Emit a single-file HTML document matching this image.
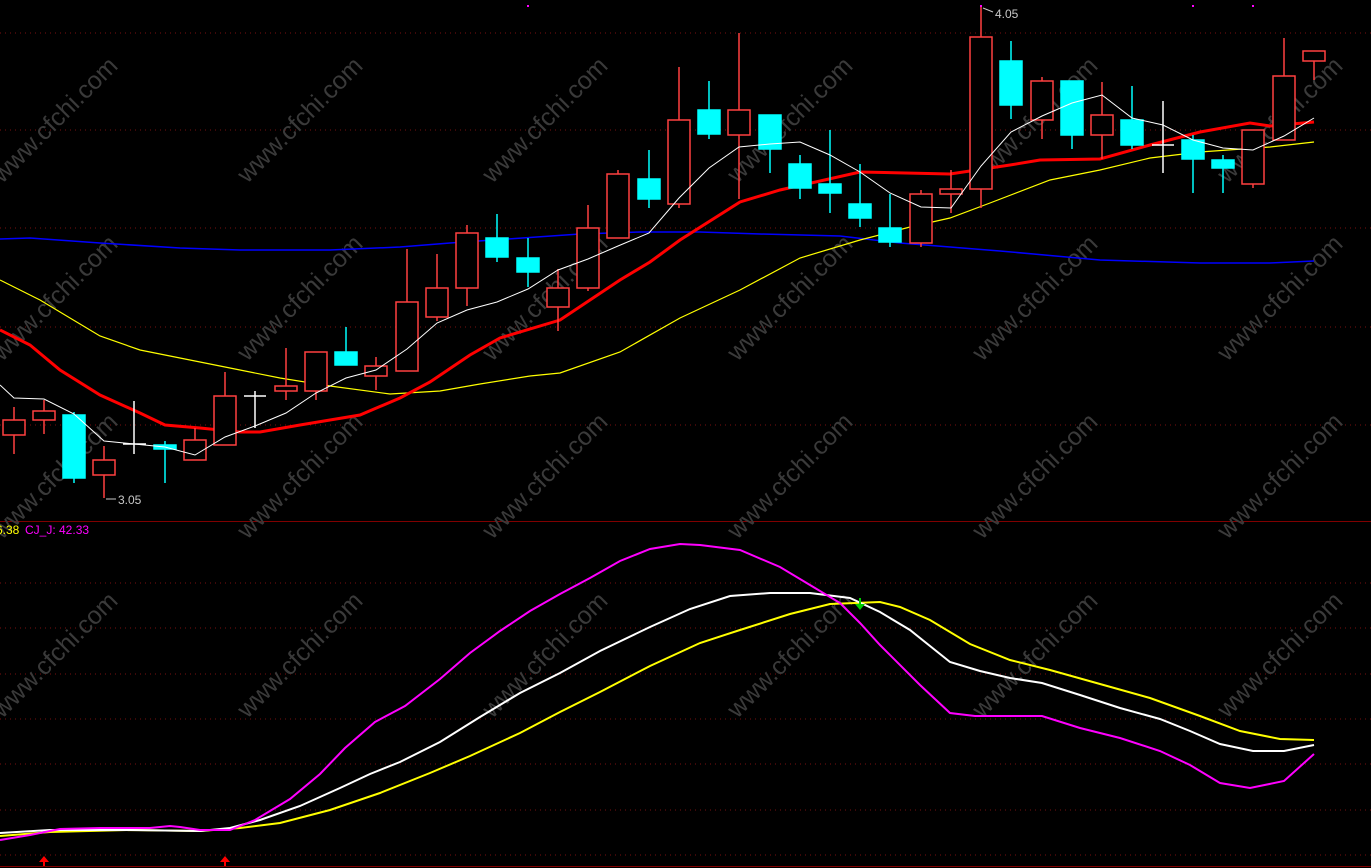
<!DOCTYPE html>
<html><head><meta charset="utf-8"><style>
html,body{margin:0;padding:0;background:#000;overflow:hidden}
svg{display:block}
</style></head><body>
<svg width="1371" height="868" viewBox="0 0 1371 868" xmlns="http://www.w3.org/2000/svg">
<rect width="1371" height="868" fill="#000"/>
<g stroke="#7a1010" stroke-width="1" stroke-dasharray="1,4">
<line x1="0" y1="33" x2="1371" y2="33"/><line x1="0" y1="130" x2="1371" y2="130"/><line x1="0" y1="228" x2="1371" y2="228"/><line x1="0" y1="327" x2="1371" y2="327"/><line x1="0" y1="425" x2="1371" y2="425"/>
<line x1="0" y1="583" x2="1371" y2="583"/><line x1="0" y1="628" x2="1371" y2="628"/><line x1="0" y1="674" x2="1371" y2="674"/><line x1="0" y1="719" x2="1371" y2="719"/><line x1="0" y1="764" x2="1371" y2="764"/><line x1="0" y1="810" x2="1371" y2="810"/><line x1="0" y1="855" x2="1371" y2="855"/>
</g>
<line x1="0" y1="521.5" x2="1371" y2="521.5" stroke="#800000" stroke-width="1"/>
<line x1="0" y1="866.5" x2="1371" y2="866.5" stroke="#800000" stroke-width="1"/>
<g font-family="Liberation Sans, sans-serif" font-size="25" fill="#3a3a3a">
<text transform="translate(55,120) rotate(-45)" text-anchor="middle" dy="8">www.cfchi.com</text>
<text transform="translate(300,120) rotate(-45)" text-anchor="middle" dy="8">www.cfchi.com</text>
<text transform="translate(545,120) rotate(-45)" text-anchor="middle" dy="8">www.cfchi.com</text>
<text transform="translate(790,120) rotate(-45)" text-anchor="middle" dy="8">www.cfchi.com</text>
<text transform="translate(1035,120) rotate(-45)" text-anchor="middle" dy="8">www.cfchi.com</text>
<text transform="translate(1280,120) rotate(-45)" text-anchor="middle" dy="8">www.cfchi.com</text>
<text transform="translate(55,298) rotate(-45)" text-anchor="middle" dy="8">www.cfchi.com</text>
<text transform="translate(300,298) rotate(-45)" text-anchor="middle" dy="8">www.cfchi.com</text>
<text transform="translate(545,298) rotate(-45)" text-anchor="middle" dy="8">www.cfchi.com</text>
<text transform="translate(790,298) rotate(-45)" text-anchor="middle" dy="8">www.cfchi.com</text>
<text transform="translate(1035,298) rotate(-45)" text-anchor="middle" dy="8">www.cfchi.com</text>
<text transform="translate(1280,298) rotate(-45)" text-anchor="middle" dy="8">www.cfchi.com</text>
<text transform="translate(55,476) rotate(-45)" text-anchor="middle" dy="8">www.cfchi.com</text>
<text transform="translate(300,476) rotate(-45)" text-anchor="middle" dy="8">www.cfchi.com</text>
<text transform="translate(545,476) rotate(-45)" text-anchor="middle" dy="8">www.cfchi.com</text>
<text transform="translate(790,476) rotate(-45)" text-anchor="middle" dy="8">www.cfchi.com</text>
<text transform="translate(1035,476) rotate(-45)" text-anchor="middle" dy="8">www.cfchi.com</text>
<text transform="translate(1280,476) rotate(-45)" text-anchor="middle" dy="8">www.cfchi.com</text>
<text transform="translate(55,655) rotate(-45)" text-anchor="middle" dy="8">www.cfchi.com</text>
<text transform="translate(300,655) rotate(-45)" text-anchor="middle" dy="8">www.cfchi.com</text>
<text transform="translate(545,655) rotate(-45)" text-anchor="middle" dy="8">www.cfchi.com</text>
<text transform="translate(790,655) rotate(-45)" text-anchor="middle" dy="8">www.cfchi.com</text>
<text transform="translate(1035,655) rotate(-45)" text-anchor="middle" dy="8">www.cfchi.com</text>
<text transform="translate(1280,655) rotate(-45)" text-anchor="middle" dy="8">www.cfchi.com</text>
</g>
<!-- MA lines -->
<polyline fill="none" stroke="#0000ff" stroke-width="1.5" points="0,239 30,238 100,243 180,248 240,250 330,250 400,247 450,243 580,234 640,232 700,232 760,234 840,236 900,243 1000,251 1100,260 1200,263 1270,263 1314,261"/>
<polyline fill="none" stroke="#ffff00" stroke-width="1.2" points="0,280 40,300 70,318 100,336 140,350 200,362 240,370 280,378 330,386 390,394 440,391 480,384 530,376 560,373 620,352 680,318 740,290 800,258 860,240 910,227 950,218 990,203 1050,180 1100,170 1150,158 1200,152 1270,147 1314,142"/>
<polyline fill="none" stroke="#ff0000" stroke-width="3" points="0,330 30,345 60,370 100,395 140,413 165,425 200,428 240,432 260,432 300,425 330,420 360,415 400,398 430,382 470,355 500,338 560,320 590,300 620,280 650,262 680,240 740,202 780,190 860,172 950,174 1010,165 1040,160 1100,159 1150,145 1200,132 1250,123 1270,126 1314,122"/>
<!-- candles -->
<g stroke-width="1.5">
<g stroke="#ff4040" fill="#000">
<line x1="14" y1="407" x2="14" y2="454"/><rect x="3" y="420" width="22" height="15"/>
<line x1="44" y1="400" x2="44" y2="434"/><rect x="33" y="411" width="22" height="9"/>
<line x1="104" y1="446" x2="104" y2="498"/><rect x="93" y="460" width="22" height="15"/>
<line x1="195" y1="428" x2="195" y2="460"/><rect x="184" y="440" width="22" height="20"/>
<line x1="225" y1="372" x2="225" y2="445"/><rect x="214" y="396" width="22" height="49"/>
<line x1="286" y1="348" x2="286" y2="400"/><rect x="275" y="386" width="22" height="5"/>
<line x1="316" y1="352" x2="316" y2="400"/><rect x="305" y="352" width="22" height="39"/>
<line x1="376" y1="357" x2="376" y2="390"/><rect x="365" y="366" width="22" height="10"/>
<line x1="407" y1="249" x2="407" y2="371"/><rect x="396" y="302" width="22" height="69"/>
<line x1="437" y1="254" x2="437" y2="321"/><rect x="426" y="288" width="22" height="29"/>
<line x1="467" y1="225" x2="467" y2="306"/><rect x="456" y="233" width="22" height="55"/>
<line x1="558" y1="269" x2="558" y2="331"/><rect x="547" y="288" width="22" height="19"/>
<line x1="588" y1="205" x2="588" y2="291"/><rect x="577" y="228" width="22" height="60"/>
<line x1="618" y1="170" x2="618" y2="238"/><rect x="607" y="174" width="22" height="64"/>
<line x1="679" y1="67" x2="679" y2="208"/><rect x="668" y="120" width="22" height="84"/>
<line x1="739" y1="33" x2="739" y2="199"/><rect x="728" y="110" width="22" height="25"/>
<line x1="921" y1="190" x2="921" y2="247"/><rect x="910" y="194" width="22" height="49"/>
<line x1="951" y1="170" x2="951" y2="213"/><rect x="940" y="189" width="22" height="5"/>
<line x1="981" y1="6" x2="981" y2="208"/><rect x="970" y="37" width="22" height="152"/>
<line x1="1042" y1="77" x2="1042" y2="139"/><rect x="1031" y="81" width="22" height="39"/>
<line x1="1102" y1="82" x2="1102" y2="159"/><rect x="1091" y="115" width="22" height="20"/>
<line x1="1253" y1="130" x2="1253" y2="188"/><rect x="1242" y="130" width="22" height="54"/>
<line x1="1284" y1="38" x2="1284" y2="140"/><rect x="1273" y="76" width="22" height="64"/>
<line x1="1314" y1="51" x2="1314" y2="80"/><rect x="1303" y="51" width="22" height="10"/>
</g>
<g stroke="#00ffff" fill="#00ffff">
<line x1="74" y1="412" x2="74" y2="483"/><rect x="63" y="415" width="22" height="63"/>
<line x1="165" y1="441" x2="165" y2="483"/><rect x="154" y="445" width="22" height="4"/>
<line x1="346" y1="327" x2="346" y2="365"/><rect x="335" y="352" width="22" height="13"/>
<line x1="497" y1="214" x2="497" y2="262"/><rect x="486" y="238" width="22" height="19"/>
<line x1="528" y1="238" x2="528" y2="287"/><rect x="517" y="258" width="22" height="14"/>
<line x1="649" y1="150" x2="649" y2="208"/><rect x="638" y="179" width="22" height="20"/>
<line x1="709" y1="81" x2="709" y2="139"/><rect x="698" y="110" width="22" height="24"/>
<line x1="770" y1="115" x2="770" y2="173"/><rect x="759" y="115" width="22" height="34"/>
<line x1="800" y1="155" x2="800" y2="199"/><rect x="789" y="164" width="22" height="24"/>
<line x1="830" y1="130" x2="830" y2="213"/><rect x="819" y="184" width="22" height="9"/>
<line x1="860" y1="164" x2="860" y2="227"/><rect x="849" y="204" width="22" height="14"/>
<line x1="890" y1="194" x2="890" y2="247"/><rect x="879" y="228" width="22" height="14"/>
<line x1="1011" y1="41" x2="1011" y2="119"/><rect x="1000" y="61" width="22" height="44"/>
<line x1="1072" y1="81" x2="1072" y2="149"/><rect x="1061" y="81" width="22" height="54"/>
<line x1="1132" y1="86" x2="1132" y2="149"/><rect x="1121" y="120" width="22" height="25"/>
<line x1="1193" y1="135" x2="1193" y2="193"/><rect x="1182" y="140" width="22" height="19"/>
<line x1="1223" y1="155" x2="1223" y2="193"/><rect x="1212" y="160" width="22" height="8"/>
</g>
<g stroke="#ffffff">
<line x1="134" y1="401" x2="134" y2="454"/><line x1="123" y1="444" x2="146" y2="444"/>
<line x1="255" y1="391" x2="255" y2="428"/><line x1="244" y1="396" x2="266" y2="396"/>
<line x1="1163" y1="101" x2="1163" y2="173"/><line x1="1152" y1="145" x2="1174" y2="145"/>
</g>
</g>
<polyline fill="none" stroke="#ffffff" stroke-width="1" points="0,385 14,398 44,399 74,414 104,441 134,444 165,447 195,455 225,437 255,426 286,413 316,393 346,378 376,370 407,349 437,323 467,310 497,302 528,289 558,270 588,259 618,246 649,233 679,198 709,168 739,147 770,144 800,142 830,155 860,172 890,193 921,207 951,208 981,166 1011,132 1042,116 1072,103 1102,95 1132,118 1163,125 1193,140 1223,148 1253,150 1284,136 1314,118"/>
<!-- markers -->
<g fill="#ff00ff"><rect x="527" y="5" width="2" height="2"/><rect x="980" y="5" width="2" height="2"/><rect x="1192" y="5" width="2" height="2"/><rect x="1252" y="5" width="2" height="2"/></g>
<g font-family="Liberation Sans, sans-serif" font-size="12" fill="#c8c8c8">
<line x1="983" y1="8" x2="993" y2="12" stroke="#c8c8c8"/><text x="995" y="18">4.05</text>
<line x1="106" y1="499" x2="116" y2="499" stroke="#c8c8c8"/><text x="118" y="504">3.05</text>
</g>
<!-- lower indicator -->
<g font-family="Liberation Sans, sans-serif" font-size="12">
<text x="-4" y="534" fill="#ffff00">6.38</text>
<text x="25" y="534" fill="#ff00ff">CJ_J: 42.33</text>
</g>
<polyline fill="none" stroke="#ffff00" stroke-width="2" points="0,836 50,832 130,830 200,831 240,828 280,823 330,810 380,793 430,773 470,756 520,733 560,712 600,692 650,666 700,643 740,630 790,614 830,604 880,602 900,607 930,620 970,644 1010,660 1050,670 1100,684 1150,698 1200,716 1240,731 1280,739 1314,740"/>
<polyline fill="none" stroke="#ffffff" stroke-width="2" points="0,833 50,830 130,830 200,831 230,828 260,820 300,806 340,788 370,774 400,762 440,742 480,717 520,693 560,673 600,651 650,627 690,609 730,596 770,593 810,593 850,598 880,612 910,630 950,662 980,671 1010,678 1042,683 1080,695 1120,708 1160,719 1190,731 1220,744 1253,751 1284,751 1314,745"/>
<polyline fill="none" stroke="#ff00ff" stroke-width="2" points="0,840 30,835 60,829 100,828 150,828 170,826 180,827 200,830 230,830 255,820 290,799 320,774 345,748 375,722 405,706 440,679 470,653 500,631 530,611 560,594 590,578 620,561 650,549 680,544 700,545 740,550 780,567 810,585 840,603 860,623 880,645 920,685 950,713 975,716 1010,716 1042,716 1080,728 1120,738 1160,751 1190,765 1220,783 1250,788 1284,781 1314,754"/>
<g fill="#ff0000" stroke="#ff0000" stroke-width="2">
<line x1="44" y1="860" x2="44" y2="866"/><polygon points="39,862 44,856 49,862" stroke="none"/>
<line x1="225" y1="860" x2="225" y2="866"/><polygon points="220,862 225,856 230,862" stroke="none"/>
</g>
<g fill="#00cc00" stroke="#00cc00" stroke-width="2">
<line x1="860" y1="598" x2="860" y2="605"/><polygon points="855,604 860,610 865,604" stroke="none"/>
</g>
</svg>
</body></html>
